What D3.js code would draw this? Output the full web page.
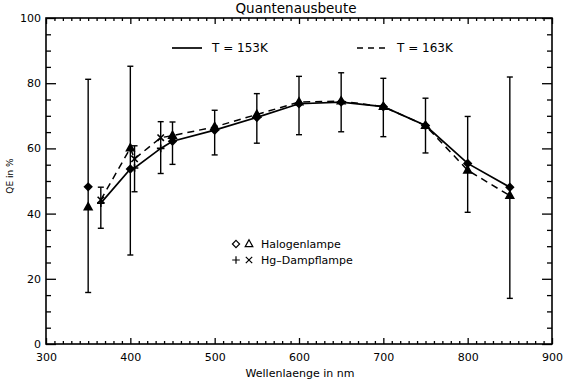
<!DOCTYPE html>
<html>
<head>
<meta charset="utf-8">
<script src="https://cdn.jsdelivr.net/npm/d3@7"></script>
<style>
  html, body { margin: 0; padding: 0; background: #fff; }
  svg { display: block; font-family: "DejaVu Sans", sans-serif; }
</style>
</head>
<body>
<svg id="chart" width="563" height="379"></svg>
<script>
// ---- data ----
const titleText = "Quantenausbeute";
const xLabel = "Wellenlaenge in nm";
const yLabel = "QE in %";
const xMajorTicks = [300, 400, 500, 600, 700, 800, 900];
const yMajorTicks = [0, 20, 40, 60, 80, 100];

const halogenWl = [350, 400, 450, 500, 550, 600, 650, 700, 750, 800, 850];
const halogen153 = [48.2, 53.7, 62.2, 65.6, 69.5, 73.7, 74.2, 72.8, 67.0, 55.4, 48.1];
const halogen163 = [42.0, 60.1, 63.9, 66.6, 70.4, 74.2, 74.5, 72.8, 67.0, 53.3, 45.5];
const halogenErrLow = [15.8, 27.3, 55.1, 58.0, 61.6, 64.2, 65.1, 63.6, 58.6, 40.4, 14.0];
const halogenErrHigh = [81.2, 85.2, 68.1, 71.7, 76.8, 82.1, 83.2, 81.5, 75.4, 69.8, 81.9];

const hgWl = [365, 405, 436];
const hg153 = [43.2, 54.0, 60.0];
const hg163 = [44.2, 56.8, 63.3];
const hgErrLow = [35.5, 46.7, 52.3];
const hgErrHigh = [48.1, 60.8, 68.2];

const legendLines = [
  { label: "T = 153K", dash: null },
  { label: "T = 163K", dash: "6,5" }
];
const legendSymbols = [
  { label: "Halogenlampe", syms: ["diamond", "triangle"] },
  { label: "Hg\u2013Dampflampe", syms: ["plus", "cross"] }
];

// ---- layout ----
const L = 46, R = 552, T = 18, B = 344;
const svg = d3.select("#chart");
const x = d3.scaleLinear().domain([300, 900]).range([L, R]);
const y = d3.scaleLinear().domain([0, 100]).range([B, T]);

const xMinor = d3.range(300, 901, 10).filter(v => v % 100 !== 0);
const yMinor = d3.range(0, 101, 5).filter(v => v % 20 !== 0);

function styleAxis(g) {
  g.select(".domain").remove();
  g.selectAll(".tick line").attr("stroke", "#000").attr("stroke-width", 1.3);
  g.selectAll(".tick text").attr("fill", "#000").attr("font-size", 11)
    .attr("font-family", "DejaVu Sans, sans-serif");
}

// bottom
svg.append("g").attr("transform", `translate(0,${B})`)
  .call(d3.axisBottom(x).tickValues(xMajorTicks).tickSize(-6).tickPadding(9).tickFormat(d3.format("d")))
  .call(styleAxis);
svg.append("g").attr("transform", `translate(0,${B})`)
  .call(d3.axisBottom(x).tickValues(xMinor).tickSize(-3).tickFormat(""))
  .call(styleAxis);
// top
svg.append("g").attr("transform", `translate(0,${T})`)
  .call(d3.axisTop(x).tickValues(xMajorTicks).tickSize(-6).tickFormat(""))
  .call(styleAxis);
svg.append("g").attr("transform", `translate(0,${T})`)
  .call(d3.axisTop(x).tickValues(xMinor).tickSize(-3).tickFormat(""))
  .call(styleAxis);
// left
svg.append("g").attr("transform", `translate(${L},0)`)
  .call(d3.axisLeft(y).tickValues(yMajorTicks).tickSize(-10).tickPadding(5).tickFormat(d3.format("d")))
  .call(styleAxis);
svg.append("g").attr("transform", `translate(${L},0)`)
  .call(d3.axisLeft(y).tickValues(yMinor).tickSize(-5).tickFormat(""))
  .call(styleAxis);
// right
svg.append("g").attr("transform", `translate(${R},0)`)
  .call(d3.axisRight(y).tickValues(yMajorTicks).tickSize(-10).tickFormat(""))
  .call(styleAxis);
svg.append("g").attr("transform", `translate(${R},0)`)
  .call(d3.axisRight(y).tickValues(yMinor).tickSize(-5).tickFormat(""))
  .call(styleAxis);

// frame
svg.append("rect").attr("x", L).attr("y", T).attr("width", R - L).attr("height", B - T)
  .attr("fill", "none").attr("stroke", "#000").attr("stroke-width", 1.6);

// title & labels
svg.append("text").attr("x", (L + R) / 2 - 3).attr("y", 12.5).attr("text-anchor", "middle")
  .attr("font-size", 13.5).text(titleText);
svg.append("text").attr("x", 300).attr("y", 376.5).attr("text-anchor", "middle")
  .attr("font-size", 11).text(xLabel);
svg.append("text").attr("transform", "translate(13,176) rotate(-90)").attr("text-anchor", "middle")
  .attr("font-size", 9).text(yLabel);

// ---- markers ----
const symPath = {
  diamond: "M0,-3.6L3.6,0L0,3.6L-3.6,0Z",
  triangle: "M0,-4.2L3.8,2.6L-3.8,2.6Z",
  plus: "M-3.8,0H3.8M0,-3.8V3.8",
  cross: "M-3.2,-3.2L3.2,3.2M-3.2,3.2L3.2,-3.2"
};

// build point sets from arrays
const halPts = halogenWl.map((w, i) => ({ wl: w, v153: halogen153[i], v163: halogen163[i], lo: halogenErrLow[i], hi: halogenErrHigh[i], src: "hal" }));
const hgPts = hgWl.map((w, i) => ({ wl: w, v153: hg153[i], v163: hg163[i], lo: hgErrLow[i], hi: hgErrHigh[i], src: "hg" }));
const allPts = halPts.concat(hgPts).sort((a, b) => a.wl - b.wl);
const linePts = allPts.filter(d => d.wl > 350);

// error bars
const eb = svg.append("g").attr("stroke", "#000").attr("stroke-width", 1.4);
allPts.forEach(d => {
  const cx = x(d.wl);
  eb.append("line").attr("x1", cx).attr("x2", cx).attr("y1", y(d.lo)).attr("y2", y(d.hi));
  eb.append("line").attr("x1", cx - 3).attr("x2", cx + 3).attr("y1", y(d.lo)).attr("y2", y(d.lo));
  eb.append("line").attr("x1", cx - 3).attr("x2", cx + 3).attr("y1", y(d.hi)).attr("y2", y(d.hi));
});

// lines
const line153 = d3.line().x(d => x(d.wl)).y(d => y(d.v153));
const line163 = d3.line().x(d => x(d.wl)).y(d => y(d.v163));
svg.append("path").datum(linePts).attr("d", line153)
  .attr("fill", "none").attr("stroke", "#000").attr("stroke-width", 1.7);
svg.append("path").datum(linePts).attr("d", line163)
  .attr("fill", "none").attr("stroke", "#000").attr("stroke-width", 1.5).attr("stroke-dasharray", "7,5");

// points
const mk = svg.append("g");
allPts.forEach(d => {
  const s153 = d.src === "hal" ? "diamond" : "plus";
  const s163 = d.src === "hal" ? "triangle" : "cross";
  [[s153, d.v153], [s163, d.v163]].forEach(([s, v]) => {
    const filled = (s === "diamond" || s === "triangle");
    mk.append("path").attr("d", symPath[s])
      .attr("transform", `translate(${x(d.wl)},${y(v)})`)
      .attr("fill", filled ? "#000" : "none")
      .attr("stroke", "#000").attr("stroke-width", 1.6);
  });
});

// ---- legends ----
const lgX = [172, 357];
legendLines.forEach((l, i) => {
  const g = svg.append("g");
  g.append("line").attr("x1", lgX[i]).attr("x2", lgX[i] + 30).attr("y1", 48).attr("y2", 48)
    .attr("stroke", "#000").attr("stroke-width", 1.7).attr("stroke-dasharray", l.dash);
  g.append("text").attr("x", lgX[i] + 40).attr("y", 52).attr("font-size", 12).text(l.label);
});

legendSymbols.forEach((l, i) => {
  const yy = 244 + i * 16;
  l.syms.forEach((s, j) => {
    svg.append("path").attr("d", symPath[s])
      .attr("transform", `translate(${236 + j * 13},${yy})`)
      .attr("fill", "none").attr("stroke", "#000").attr("stroke-width", 1.2);
  });
  svg.append("text").attr("x", 261).attr("y", yy + 4).attr("font-size", 11).text(l.label);
});
</script>
</body>
</html>
